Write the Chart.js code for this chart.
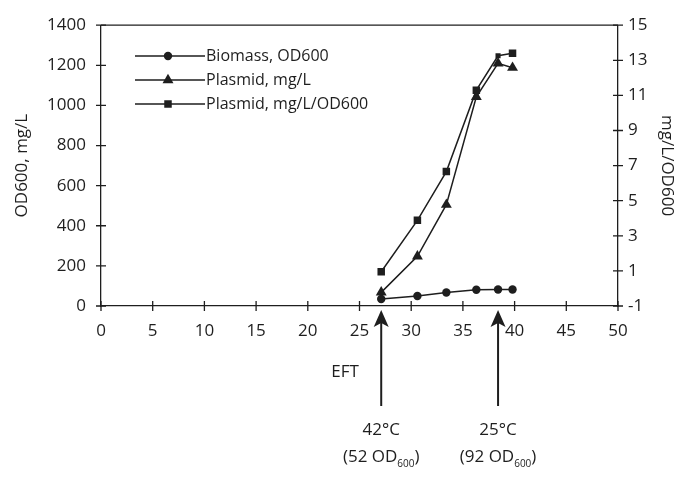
<!DOCTYPE html>
<html><head><meta charset="utf-8">
<script src="https://cdn.jsdelivr.net/npm/chart.js@4/dist/chart.umd.min.js"></script>
<style>html,body{margin:0;padding:0;background:#fff;}#wrap{width:687px;height:480px;}</style>
</head><body><div id="wrap"><canvas id="c" width="687" height="480"></canvas></div>
<script>
const eftTimes = [27.1, 30.6, 33.4, 36.3, 38.4, 39.8];
const biomassOD = [35, 50, 67, 81, 82, 82];
const plasmidMgL = [68, 248, 505, 1043, 1210, 1188];
const plasmidPerOD = [0.95, 3.88, 6.66, 11.3, 13.26, 13.4];
const seriesLabels = ['Biomass, OD600', 'Plasmid, mg/L', 'Plasmid, mg/L/OD600'];
const xTicks = [0, 5, 10, 15, 20, 25, 30, 35, 40, 45, 50];
const leftTicks = [0, 200, 400, 600, 800, 1000, 1200, 1400];
const rightTicks = [-1, 1, 3, 5, 7, 9, 11, 13, 15];
const xTitle = 'EFT';
const leftTitle = 'OD600, mg/L';
const rightTitle = 'mg/L/OD600';
const arrowTimes = [27.1, 38.4];
const arrowTemps = ['42°C', '25°C'];
const arrowODs = ['52', '92'];

const FONT = '"Open Sans", "Noto Sans", sans-serif';
const INK = '#1e1e1e';

function pts(xs, ys) { return xs.map((x, i) => ({x: x, y: ys[i]})); }

function drawMarker(ctx, style, x, y, r) {
  ctx.beginPath();
  if (style === 'circle') {
    ctx.arc(x, y, r, 0, Math.PI * 2);
  } else if (style === 'triangle') {
    for (let k = 0; k < 3; k++) {
      const a = k * 2 * Math.PI / 3;
      const px = x + Math.sin(a) * r, py = y - Math.cos(a) * r;
      if (k === 0) ctx.moveTo(px, py); else ctx.lineTo(px, py);
    }
    ctx.closePath();
  } else {
    const s = Math.SQRT1_2 * r;
    ctx.rect(x - s, y - s, 2 * s, 2 * s);
  }
  ctx.fill();
}

const decor = {
  id: 'decor',
  afterDraw(chart) {
    const ctx = chart.ctx;
    const ca = chart.chartArea;
    const sx = chart.scales.x, sy = chart.scales.y, sy2 = chart.scales.y2;
    ctx.save();
    ctx.strokeStyle = INK;
    ctx.lineWidth = 1.3;
    ctx.beginPath(); ctx.moveTo(ca.left, ca.top); ctx.lineTo(ca.right, ca.top); ctx.stroke();
    ctx.beginPath();
    xTicks.forEach(v => { const p = sx.getPixelForValue(v); ctx.moveTo(p, ca.bottom - 5); ctx.lineTo(p, ca.bottom + 5); });
    leftTicks.forEach(v => { const p = sy.getPixelForValue(v); ctx.moveTo(ca.left - 5, p); ctx.lineTo(ca.left + 5, p); });
    rightTicks.forEach(v => { const p = sy2.getPixelForValue(v); ctx.moveTo(ca.right - 5, p); ctx.lineTo(ca.right + 5, p); });
    ctx.stroke();

    const rows = [56, 80, 104];
    ctx.font = '16px ' + FONT;
    ctx.textBaseline = 'middle';
    ctx.textAlign = 'left';
    chart.data.datasets.forEach((ds, i) => {
      const y = rows[i];
      ctx.strokeStyle = INK; ctx.lineWidth = 1.5;
      ctx.beginPath(); ctx.moveTo(135, y); ctx.lineTo(205, y); ctx.stroke();
      ctx.fillStyle = INK;
      drawMarker(ctx, ds.pointStyle, 168, y, ds.legendRadius);
      ctx.fillText(ds.label, 206, y);
    });

    ctx.font = '17px ' + FONT;
    ctx.textAlign = 'center';
    ctx.fillStyle = INK;
    ctx.fillText(xTitle, 345, 372);

    arrowTimes.forEach((t, i) => {
      const x = sx.getPixelForValue(t);
      ctx.strokeStyle = INK; ctx.lineWidth = 2;
      ctx.beginPath(); ctx.moveTo(x, 406); ctx.lineTo(x, 322); ctx.stroke();
      ctx.beginPath();
      ctx.moveTo(x, 310); ctx.lineTo(x - 7.5, 327); ctx.lineTo(x, 323); ctx.lineTo(x + 7.5, 327); ctx.closePath();
      ctx.fill();
      ctx.font = '17px ' + FONT;
      ctx.textAlign = 'center';
      ctx.fillText(arrowTemps[i], x, 430);
      const p1 = '(' + arrowODs[i] + ' OD', p2 = '600', p3 = ')';
      ctx.font = '17px ' + FONT; const w1 = ctx.measureText(p1).width, w3 = ctx.measureText(p3).width;
      ctx.font = '10px ' + FONT; const w2 = ctx.measureText(p2).width;
      let cx = x - (w1 + w2 + w3) / 2;
      ctx.textAlign = 'left';
      ctx.font = '17px ' + FONT; ctx.fillText(p1, cx, 457); cx += w1;
      ctx.font = '10px ' + FONT; ctx.fillText(p2, cx, 464); cx += w2;
      ctx.font = '17px ' + FONT; ctx.fillText(p3, cx, 457);
    });
    ctx.restore();
  }
};

function mk(label, data, style, radius, axis, legendRadius) {
  return {
    label: label, data: data, yAxisID: axis,
    borderColor: INK, backgroundColor: INK, borderWidth: 1.5,
    pointStyle: style, pointRadius: radius, pointBorderWidth: 0,
    pointBackgroundColor: INK, pointBorderColor: INK,
    showLine: true, tension: 0, legendRadius: legendRadius
  };
}

const plain = v => String(v);

new Chart(document.getElementById('c'), {
  type: 'scatter',
  data: {
    datasets: [
      mk(seriesLabels[0], pts(eftTimes, biomassOD), 'circle', 4.2, 'y', 4.2),
      mk(seriesLabels[1], pts(eftTimes, plasmidMgL), 'triangle', 6.3, 'y', 6.3),
      mk(seriesLabels[2], pts(eftTimes, plasmidPerOD), 'rect', [5.3, 5.3, 5.3, 5.3, 3.6, 5.3], 'y2', 5.3)
    ]
  },
  options: {
    responsive: false, animation: false, devicePixelRatio: 1,
    layout: { padding: { top: 23, left: 0, right: 0, bottom: 0 } },
    plugins: { legend: { display: false }, tooltip: { enabled: false } },
    scales: {
      x: {
        type: 'linear', min: 0, max: 50,
        afterBuildTicks: s => { s.ticks = xTicks.map(v => ({value: v})); },
        afterFit: s => { s.height = 174; },
        grid: { display: false, drawTicks: false },
        border: { display: true, color: INK, width: 1.3 },
        ticks: { font: { family: FONT, size: 17 }, color: INK, padding: 15, maxRotation: 0, callback: plain }
      },
      y: {
        position: 'left', min: 0, max: 1400,
        afterBuildTicks: s => { s.ticks = leftTicks.map(v => ({value: v})); },
        afterFit: s => { s.width = 101; },
        grid: { display: false, drawTicks: false },
        border: { display: true, color: INK, width: 1.3 },
        ticks: { font: { family: FONT, size: 17 }, color: INK, padding: 15, callback: plain },
        title: { display: true, text: leftTitle, font: { family: FONT, size: 17 }, color: INK, padding: { top: 12, bottom: 0 } }
      },
      y2: {
        position: 'right', min: -1, max: 15,
        afterBuildTicks: s => { s.ticks = rightTicks.map(v => ({value: v})); },
        afterFit: s => { s.width = 69; },
        grid: { display: false, drawTicks: false },
        border: { display: true, color: INK, width: 1.3 },
        ticks: { font: { family: FONT, size: 17 }, color: INK, padding: 10, callback: plain },
        title: { display: true, text: rightTitle, font: { family: FONT, size: 17 }, color: INK, padding: { top: 10, bottom: 0 } }
      }
    }
  },
  plugins: [decor]
});
</script>
</body></html>
